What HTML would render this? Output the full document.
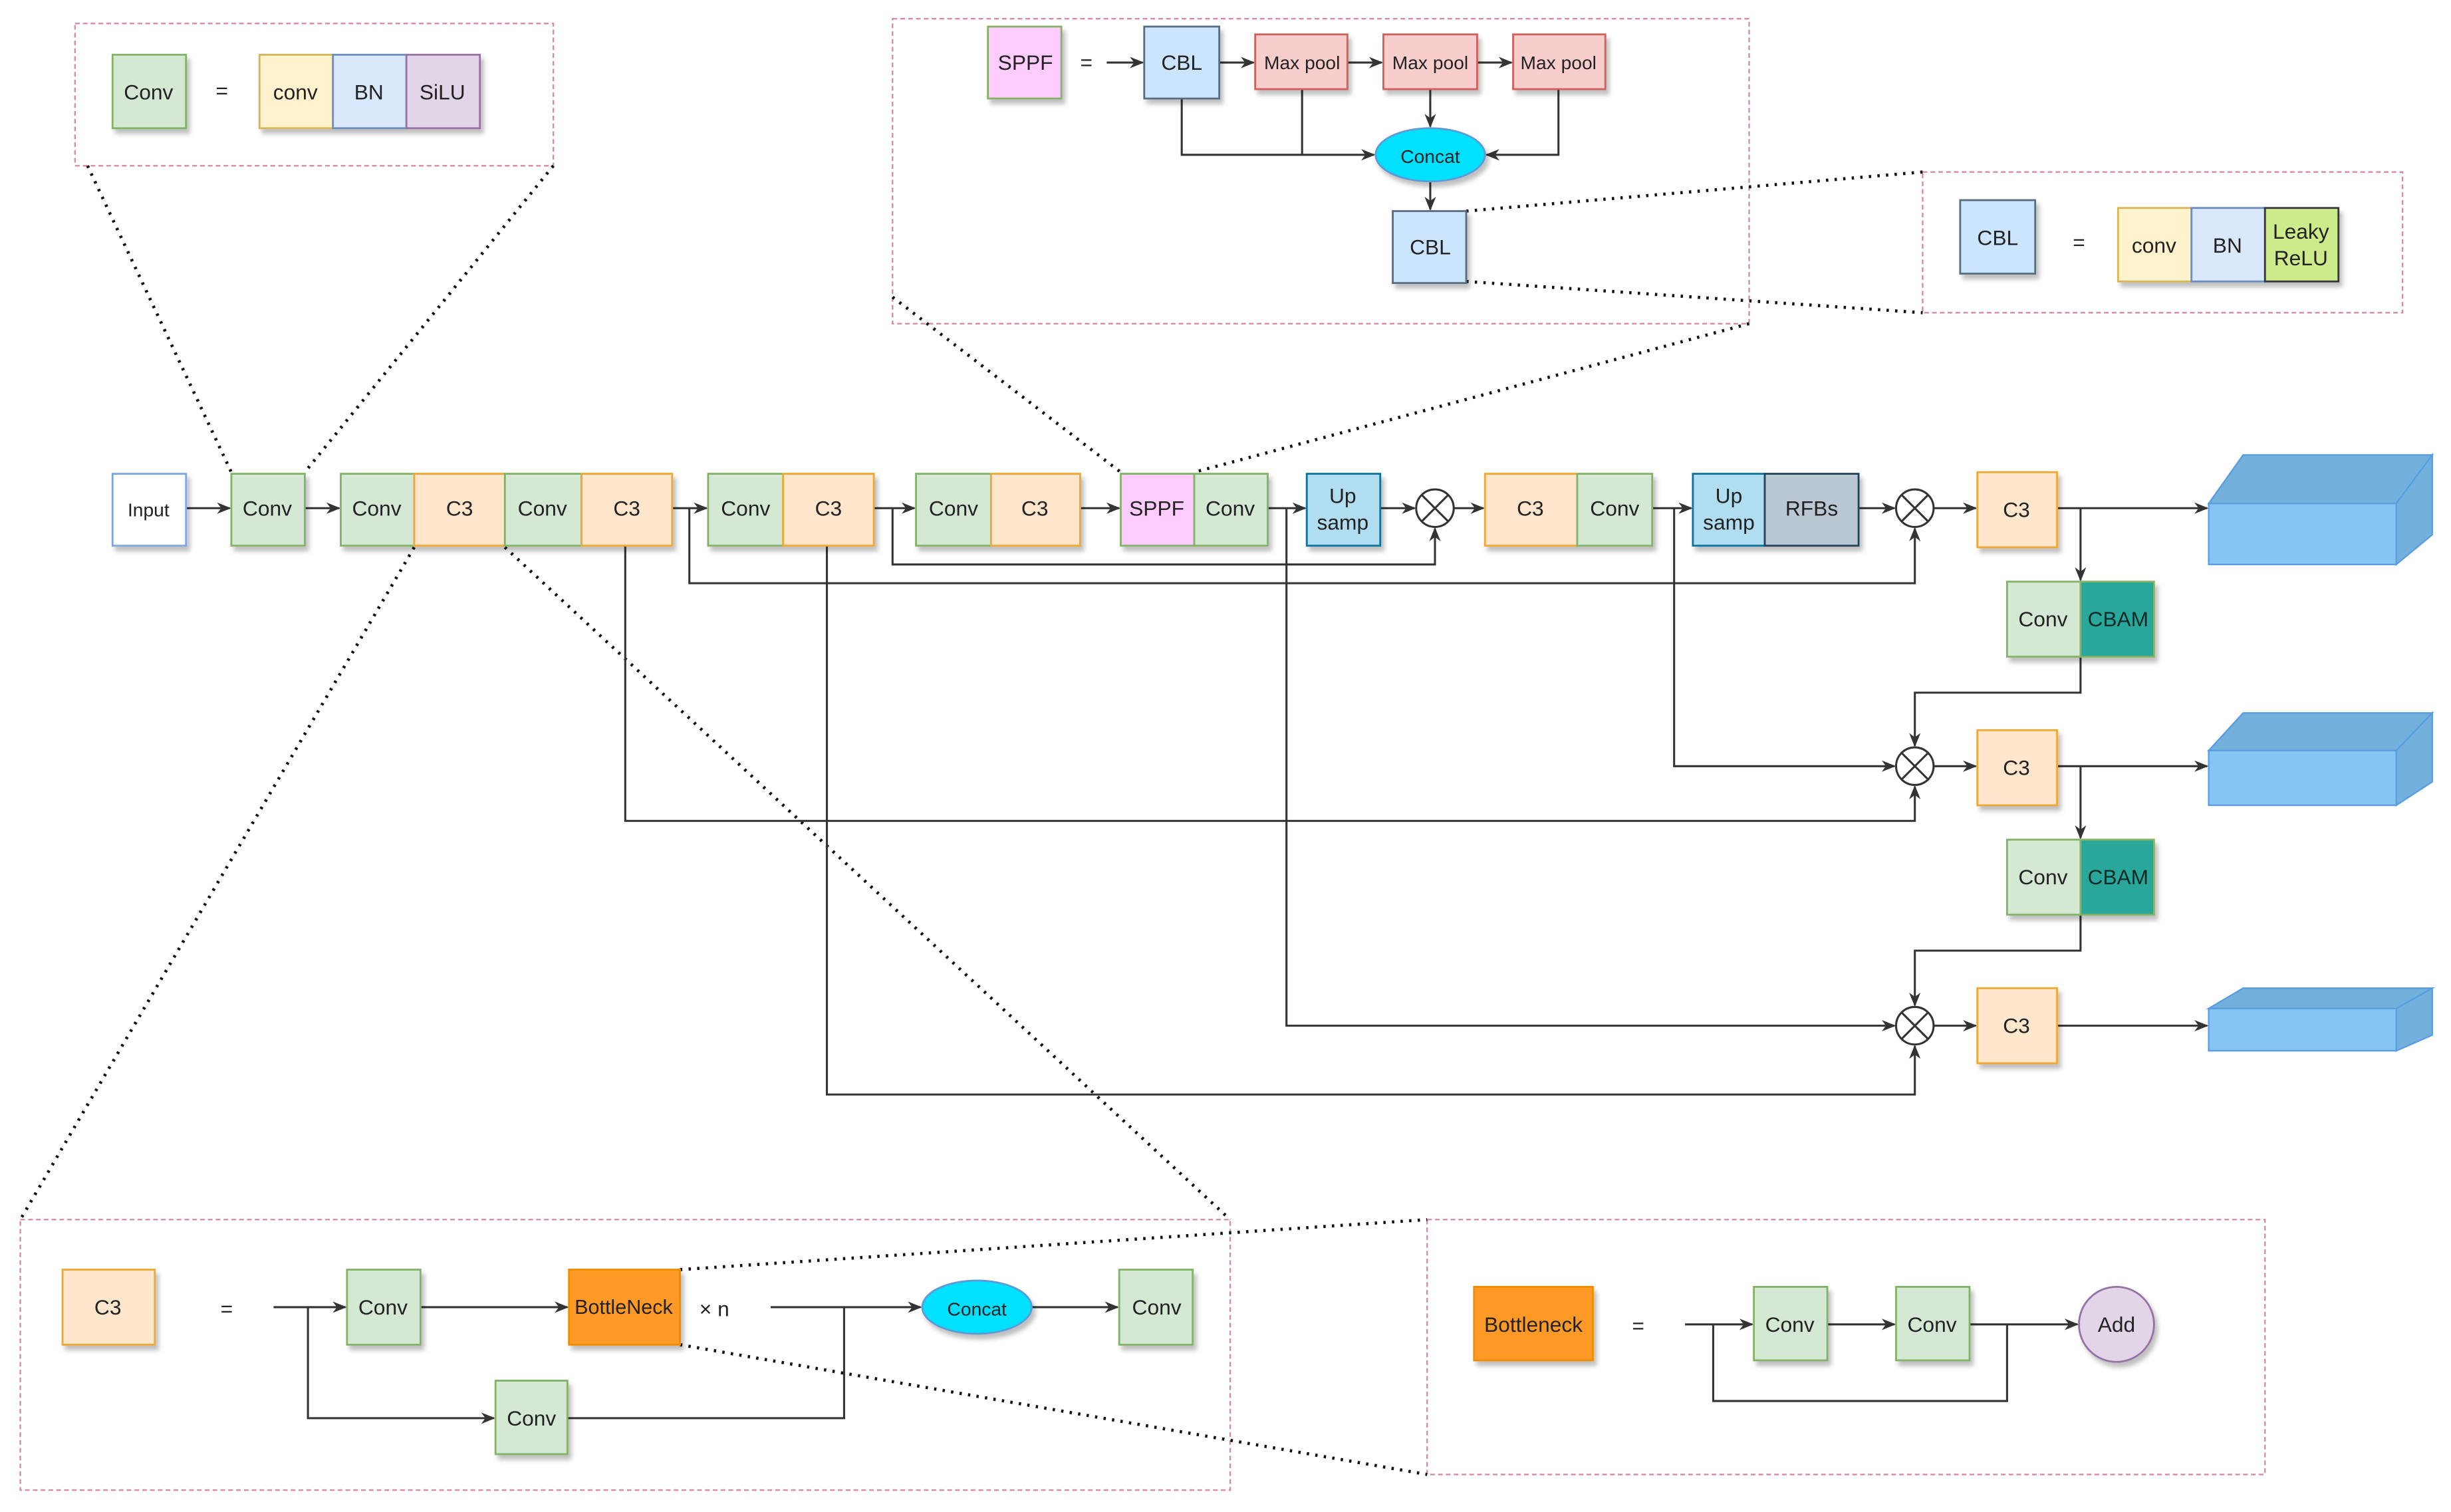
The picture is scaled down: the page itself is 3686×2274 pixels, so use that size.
<!DOCTYPE html>
<html><head><meta charset="utf-8"><style>
html,body{margin:0;padding:0;background:#fff}
svg{display:block}
text{font-family:"Liberation Sans",sans-serif;font-size:13.5px;fill:#222;text-anchor:middle;dominant-baseline:central}
</style></head><body>
<svg width="3686" height="2274" viewBox="0 0 1568 967" preserveAspectRatio="none" xmlns="http://www.w3.org/2000/svg">
<defs>
<marker id="a" viewBox="0 0 10 10" refX="9" refY="5" markerWidth="7" markerHeight="7" orient="auto"><path d="M0,1 L10,5 L0,9 L3,5 z" fill="#333"/></marker>
<filter id="s" x="-20%" y="-20%" width="150%" height="150%"><feDropShadow dx="2" dy="3" stdDeviation="1.5" flood-color="#000" flood-opacity="0.25"/></filter>
</defs>
<g fill="none" stroke="#d68ba4" stroke-width="1" stroke-dasharray="3,2">
<rect x="48" y="15" width="306" height="91"/>
<rect x="571" y="12" width="548" height="195"/>
<rect x="1230" y="110" width="307" height="90"/>
<rect x="13" y="780" width="774" height="173"/>
<rect x="913" y="780" width="536" height="163"/>
</g>
<g stroke="#111" stroke-width="2" stroke-dasharray="1.5,4" fill="none">
<line x1="56" y1="106" x2="148" y2="302"/><line x1="354" y1="106" x2="195" y2="302"/>
<line x1="571" y1="190" x2="717" y2="302"/><line x1="1119" y1="207" x2="764" y2="302"/>
<line x1="938" y1="135" x2="1230" y2="110"/><line x1="938" y1="180" x2="1230" y2="200"/>
<line x1="265" y1="350" x2="13" y2="780"/><line x1="323" y1="350" x2="787" y2="780"/>
<line x1="435" y1="812" x2="913" y2="780"/><line x1="435" y1="860" x2="913" y2="943"/>
</g>
<g stroke="#333" stroke-width="1.3" fill="none">
<!-- main row arrows -->
<line x1="119" y1="325" x2="147" y2="325" marker-end="url(#a)"/>
<line x1="195" y1="325" x2="217" y2="325" marker-end="url(#a)"/>
<line x1="430" y1="325" x2="452" y2="325" marker-end="url(#a)"/>
<line x1="559" y1="325" x2="585" y2="325" marker-end="url(#a)"/>
<line x1="691" y1="325" x2="716" y2="325" marker-end="url(#a)"/>
<line x1="811" y1="325" x2="835" y2="325" marker-end="url(#a)"/>
<line x1="883" y1="325" x2="905" y2="325" marker-end="url(#a)"/>
<line x1="930" y1="325" x2="949" y2="325" marker-end="url(#a)"/>
<line x1="1057" y1="325" x2="1082" y2="325" marker-end="url(#a)"/>
<line x1="1189" y1="325" x2="1212" y2="325" marker-end="url(#a)"/>
<line x1="1237" y1="325" x2="1264" y2="325" marker-end="url(#a)"/>
<line x1="1316" y1="325" x2="1412" y2="325" marker-end="url(#a)"/>
<line x1="1237" y1="490" x2="1264" y2="490" marker-end="url(#a)"/>
<line x1="1316" y1="490" x2="1412" y2="490" marker-end="url(#a)"/>
<line x1="1237" y1="656" x2="1264" y2="656" marker-end="url(#a)"/>
<line x1="1316" y1="656" x2="1412" y2="656" marker-end="url(#a)"/>
<!-- skip connections -->
<polyline points="571,325 571,361 918,361 918,338" marker-end="url(#a)"/>
<polyline points="441,325 441,373 1225,373 1225,338" marker-end="url(#a)"/>
<polyline points="400,349 400,525 1225,525 1225,503" marker-end="url(#a)"/>
<polyline points="529,349 529,700 1225,700 1225,669" marker-end="url(#a)"/>
<polyline points="823,325 823,656 1212,656" marker-end="url(#a)"/>
<polyline points="1071,325 1071,490 1212,490" marker-end="url(#a)"/>
<polyline points="1331,325 1331,371" marker-end="url(#a)"/>
<polyline points="1331,420 1331,443 1225,443 1225,477" marker-end="url(#a)"/>
<polyline points="1331,490 1331,536" marker-end="url(#a)"/>
<polyline points="1331,585 1331,608 1225,608 1225,643" marker-end="url(#a)"/>
<!-- SPPF inset -->
<line x1="708" y1="40" x2="731" y2="40" marker-end="url(#a)"/>
<line x1="780" y1="40" x2="802" y2="40" marker-end="url(#a)"/>
<line x1="862" y1="40" x2="884" y2="40" marker-end="url(#a)"/>
<line x1="945" y1="40" x2="967" y2="40" marker-end="url(#a)"/>
<polyline points="756,63 756,99 879,99" marker-end="url(#a)"/>
<line x1="833" y1="57" x2="833" y2="99"/>
<polyline points="997,57 997,99 951,99" marker-end="url(#a)"/>
<line x1="915" y1="57" x2="915" y2="81" marker-end="url(#a)"/>
<line x1="915" y1="116" x2="915" y2="134" marker-end="url(#a)"/>
<!-- C3 inset -->
<line x1="175" y1="836" x2="221" y2="836" marker-end="url(#a)"/>
<line x1="269" y1="836" x2="363" y2="836" marker-end="url(#a)"/>
<polyline points="197,836 197,907 316,907" marker-end="url(#a)"/>
<polyline points="363,907 540,907 540,836"/>
<line x1="493" y1="836" x2="589" y2="836" marker-end="url(#a)"/>
<line x1="660" y1="836" x2="715" y2="836" marker-end="url(#a)"/>
<!-- Bottleneck inset -->
<line x1="1078" y1="847" x2="1121" y2="847" marker-end="url(#a)"/>
<line x1="1169" y1="847" x2="1212" y2="847" marker-end="url(#a)"/>
<line x1="1260" y1="847" x2="1329" y2="847" marker-end="url(#a)"/>
<polyline points="1096,847 1096,896 1284,896 1284,847"/>
</g>
<!-- boxes -->
<g filter="url(#s)" stroke-width="1.2">
<rect x="72" y="303" width="47" height="46" fill="#fff" stroke="#7ea6e0"/>
<rect x="148" y="303" width="47" height="46" fill="#d5e8d4" stroke="#82b366"/>
<rect x="218" y="303" width="47" height="46" fill="#d5e8d4" stroke="#82b366"/>
<rect x="265" y="303" width="58" height="46" fill="#ffe6cc" stroke="#f0a830"/>
<rect x="323" y="303" width="49" height="46" fill="#d5e8d4" stroke="#82b366"/>
<rect x="372" y="303" width="58" height="46" fill="#ffe6cc" stroke="#f0a830"/>
<rect x="453" y="303" width="48" height="46" fill="#d5e8d4" stroke="#82b366"/>
<rect x="501" y="303" width="58" height="46" fill="#ffe6cc" stroke="#f0a830"/>
<rect x="586" y="303" width="48" height="46" fill="#d5e8d4" stroke="#82b366"/>
<rect x="634" y="303" width="57" height="46" fill="#ffe6cc" stroke="#f0a830"/>
<rect x="717" y="303" width="47" height="46" fill="#ffccff" stroke="#82b366"/>
<rect x="764" y="303" width="47" height="46" fill="#d5e8d4" stroke="#82b366"/>
<rect x="836" y="303" width="47" height="46" fill="#b1ddf0" stroke="#10739e"/>
<rect x="950" y="303" width="59" height="46" fill="#ffe6cc" stroke="#f0a830"/>
<rect x="1009" y="303" width="48" height="46" fill="#d5e8d4" stroke="#82b366"/>
<rect x="1083" y="303" width="46" height="46" fill="#b1ddf0" stroke="#10739e"/>
<rect x="1129" y="303" width="60" height="46" fill="#bac8d3" stroke="#23445d"/>
<rect x="1265" y="302" width="51" height="48" fill="#ffe6cc" stroke="#f0a830"/>
<rect x="1265" y="467" width="51" height="48" fill="#ffe6cc" stroke="#f0a830"/>
<rect x="1265" y="632" width="51" height="48" fill="#ffe6cc" stroke="#f0a830"/>
<rect x="1284" y="372" width="47" height="48" fill="#d5e8d4" stroke="#82b366"/>
<rect x="1331" y="372" width="47" height="48" fill="#2aa79b" stroke="#82b366"/>
<rect x="1284" y="537" width="47" height="48" fill="#d5e8d4" stroke="#82b366"/>
<rect x="1331" y="537" width="47" height="48" fill="#2aa79b" stroke="#82b366"/>
<!-- top-left inset -->
<rect x="72" y="35" width="47" height="47" fill="#d5e8d4" stroke="#82b366"/>
<rect x="166" y="35" width="47" height="47" fill="#fff2cc" stroke="#d6b656"/>
<rect x="213" y="35" width="47" height="47" fill="#dae8fc" stroke="#6c8ebf"/>
<rect x="260" y="35" width="47" height="47" fill="#e1d5e7" stroke="#9673a6"/>
<!-- SPPF inset -->
<rect x="632" y="17" width="47" height="46" fill="#ffccff" stroke="#82b366"/>
<rect x="732" y="17" width="48" height="46" fill="#cce5ff" stroke="#5a6d80"/>
<rect x="803" y="22" width="59" height="35" fill="#f8cecc" stroke="#d0605a"/>
<rect x="885" y="22" width="60" height="35" fill="#f8cecc" stroke="#d0605a"/>
<rect x="968" y="22" width="59" height="35" fill="#f8cecc" stroke="#d0605a"/>
<ellipse cx="915" cy="99" rx="35" ry="17" fill="#00e1ff" stroke="#5b9bd5"/>
<rect x="891" y="135" width="47" height="46" fill="#cce5ff" stroke="#5a6d80"/>
<!-- CBL inset -->
<rect x="1254" y="128" width="48" height="47" fill="#cce5ff" stroke="#5a6d80"/>
<rect x="1355" y="133" width="47" height="47" fill="#fff2cc" stroke="#d6b656"/>
<rect x="1402" y="133" width="47" height="47" fill="#dae8fc" stroke="#6c8ebf"/>
<rect x="1449" y="133" width="47" height="47" fill="#cdeb8b" stroke="#36393d"/>
<!-- C3 inset -->
<rect x="40" y="812" width="59" height="48" fill="#ffe6cc" stroke="#f0a830"/>
<rect x="222" y="812" width="47" height="48" fill="#d5e8d4" stroke="#82b366"/>
<rect x="364" y="812" width="71" height="48" fill="#ff9a26" stroke="#f08c00"/>
<ellipse cx="625" cy="836" rx="35" ry="17" fill="#00e1ff" stroke="#5b9bd5"/>
<rect x="716" y="812" width="47" height="48" fill="#d5e8d4" stroke="#82b366"/>
<rect x="317" y="883" width="46" height="47" fill="#d5e8d4" stroke="#82b366"/>
<!-- Bottleneck inset -->
<rect x="943" y="823" width="76" height="47" fill="#ff9a26" stroke="#f08c00"/>
<rect x="1122" y="823" width="47" height="47" fill="#d5e8d4" stroke="#82b366"/>
<rect x="1213" y="823" width="47" height="47" fill="#d5e8d4" stroke="#82b366"/>
<circle cx="1354" cy="847" r="24" fill="#e1d5e7" stroke="#9673a6"/>
</g>
<!-- circles x -->
<g fill="#fff" stroke="#333" stroke-width="1.3">
<circle cx="918" cy="325" r="12"/><circle cx="1225" cy="325" r="12"/>
<circle cx="1225" cy="490" r="12"/><circle cx="1225" cy="656" r="12"/>
</g>
<g stroke="#333" stroke-width="1.3">
<path d="M909.5,316.5 L926.5,333.5 M926.5,316.5 L909.5,333.5"/>
<path d="M1216.5,316.5 L1233.5,333.5 M1233.5,316.5 L1216.5,333.5"/>
<path d="M1216.5,481.5 L1233.5,498.5 M1233.5,481.5 L1216.5,498.5"/>
<path d="M1216.5,647.5 L1233.5,664.5 M1233.5,647.5 L1216.5,664.5"/>
</g>
<!-- cuboids -->
<g stroke="#5a9de0" stroke-width="1">
<polygon points="1413,322 1435,291 1556,291 1533,322" fill="#74b0dc"/>
<polygon points="1533,322 1556,291 1556,342 1533,361" fill="#74b0dc"/>
<rect x="1413" y="322" width="120" height="39" fill="#86c5f2"/>
<polygon points="1413,480 1435,456 1556,456 1533,480" fill="#74b0dc"/>
<polygon points="1533,480 1556,456 1556,500 1533,515" fill="#74b0dc"/>
<rect x="1413" y="480" width="120" height="35" fill="#86c5f2"/>
<polygon points="1413,645 1435,632 1556,632 1533,645" fill="#74b0dc"/>
<polygon points="1533,645 1556,632 1556,662 1533,672" fill="#74b0dc"/>
<rect x="1413" y="645" width="120" height="27" fill="#86c5f2"/>
</g>
<!-- text -->
<text x="95" y="326" style="font-size:12px">Input</text>
<text x="171" y="325">Conv</text>
<text x="241" y="325">Conv</text>
<text x="294" y="325">C3</text>
<text x="347" y="325">Conv</text>
<text x="401" y="325">C3</text>
<text x="477" y="325">Conv</text>
<text x="530" y="325">C3</text>
<text x="610" y="325">Conv</text>
<text x="662" y="325">C3</text>
<text x="740" y="325">SPPF</text>
<text x="787" y="325">Conv</text>
<text x="859" y="317">Up</text><text x="859" y="334">samp</text>
<text x="979" y="325">C3</text>
<text x="1033" y="325">Conv</text>
<text x="1106" y="317">Up</text><text x="1106" y="334">samp</text>
<text x="1159" y="325">RFBs</text>
<text x="1290" y="326">C3</text>
<text x="1290" y="491">C3</text>
<text x="1290" y="656">C3</text>
<text x="1307" y="396">Conv</text><text x="1355" y="396" style="fill:#0a2a26">CBAM</text>
<text x="1307" y="561">Conv</text><text x="1355" y="561" style="fill:#0a2a26">CBAM</text>
<text x="95" y="59">Conv</text>
<text x="142" y="58">=</text>
<text x="189" y="59">conv</text>
<text x="236" y="59">BN</text>
<text x="283" y="59">SiLU</text>
<text x="656" y="40">SPPF</text>
<text x="695" y="40">=</text>
<text x="756" y="40">CBL</text>
<text x="833" y="40" style="font-size:12px">Max pool</text>
<text x="915" y="40" style="font-size:12px">Max pool</text>
<text x="997" y="40" style="font-size:12px">Max pool</text>
<text x="915" y="100" style="font-size:12px">Concat</text>
<text x="915" y="158">CBL</text>
<text x="1278" y="152">CBL</text>
<text x="1330" y="155">=</text>
<text x="1378" y="157">conv</text>
<text x="1425" y="157">BN</text>
<text x="1472" y="148">Leaky</text><text x="1472" y="165">ReLU</text>
<text x="69" y="836">C3</text>
<text x="145" y="837">=</text>
<text x="245" y="836">Conv</text>
<text x="399" y="836" style="font-size:13px">BottleNeck</text>
<text x="457" y="837">× n</text>
<text x="625" y="837" style="font-size:12px">Concat</text>
<text x="740" y="836">Conv</text>
<text x="340" y="907">Conv</text>
<text x="981" y="847">Bottleneck</text>
<text x="1048" y="848">=</text>
<text x="1145" y="847">Conv</text>
<text x="1236" y="847">Conv</text>
<text x="1354" y="847">Add</text>
</svg>
</body></html>
